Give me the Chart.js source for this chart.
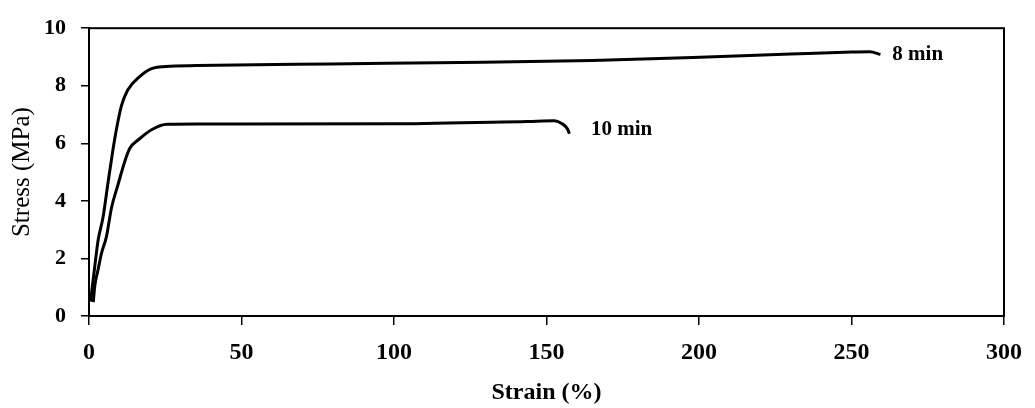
<!DOCTYPE html>
<html>
<head>
<meta charset="utf-8">
<script src="https://cdn.jsdelivr.net/npm/chart.js@4/dist/chart.umd.min.js"></script>
<style>
  html, body { margin: 0; padding: 0; background: #fff; }
  #wrap { width: 1035px; height: 408px; }
</style>
</head>
<body>
<div id="wrap"><canvas id="chart" width="1035" height="408"></canvas></div>
<script>
// Values
const strain8  = [0.5, 1.9, 3.0, 4.6, 6.3, 7.9, 9.0, 10.6, 12.7, 16.5, 20.3, 25.2, 35.4, 79, 122, 165, 198, 230, 250, 256, 259.5];
const stress8  = [0.5, 1.73, 2.64, 3.43, 4.68, 5.81, 6.49, 7.29, 7.85, 8.31, 8.59, 8.67, 8.70, 8.76, 8.81, 8.88, 8.98, 9.10, 9.17, 9.18, 9.09];
const strain10 = [1.4, 1.9, 3.0, 4.1, 5.7, 7.4, 9.5, 11.7, 13.3, 16.5, 20.8, 25.7, 36, 100.7, 143.8, 152.6, 154.8, 156.9, 157.5];
const stress10 = [0.48, 1.05, 1.62, 2.18, 2.75, 3.77, 4.56, 5.36, 5.81, 6.15, 6.49, 6.66, 6.67, 6.68, 6.76, 6.78, 6.70, 6.50, 6.33];
const seriesNames = ['8 min', '10 min'];
const xTicks = [0, 50, 100, 150, 200, 250, 300];
const yTicks = [0, 2, 4, 6, 8, 10];

// where the curve names sit, in data units (strain, stress)
const LABEL_AT = [[263.4, 9.07], [164.6, 6.47]];

const toPoints = (xs, ys) => xs.map((x, i) => ({ x, y: ys[i] }));
const SERIF = "'Liberation Serif', 'Times New Roman', serif";

// plot frame + curve names
const framePlugin = {
  id: 'frame',
  afterDatasetsDraw(chart) {
    const { ctx, chartArea: a, scales } = chart;
    ctx.save();
    ctx.strokeStyle = '#000';
    ctx.lineWidth = 2;
    ctx.strokeRect(a.left, a.top, a.right - a.left, a.bottom - a.top);
    ctx.fillStyle = '#000';
    ctx.font = 'bold 21px ' + SERIF;
    ctx.textAlign = 'left';
    ctx.textBaseline = 'middle';
    seriesNames.forEach((name, i) => {
      const [lx, ly] = LABEL_AT[i];
      ctx.fillText(name, scales.x.getPixelForValue(lx), scales.y.getPixelForValue(ly));
    });
    ctx.restore();
  }
};

const lineStyle = {
  borderColor: '#000',
  borderWidth: 3,
  pointRadius: 0,
  showLine: true,
  fill: false,
  cubicInterpolationMode: 'monotone'
};

new Chart(document.getElementById('chart'), {
  type: 'scatter',
  data: {
    datasets: [
      { label: seriesNames[0], data: toPoints(strain8, stress8), ...lineStyle },
      { label: seriesNames[1], data: toPoints(strain10, stress10), ...lineStyle }
    ]
  },
  options: {
    responsive: false,
    animation: false,
    layout: { padding: { top: 20, right: 20, bottom: 0, left: 0 } },
    plugins: { legend: { display: false }, tooltip: { enabled: false } },
    scales: {
      x: {
        type: 'linear',
        min: 0, max: 300,
        afterBuildTicks: s => { s.ticks = xTicks.map(v => ({ value: v })); },
        afterFit: s => { s.height = 92; },
        grid: { drawOnChartArea: false, drawTicks: true, tickLength: 9, color: '#000', lineWidth: 1.5 },
        border: { display: true, color: '#000', width: 2 },
        ticks: { color: '#000', padding: 13, maxRotation: 0, font: { family: SERIF, size: 24, weight: 'bold' } },
        title: {
          display: true, text: 'Strain (%)', color: '#000',
          padding: { top: 0, bottom: 1 },
          font: { family: SERIF, size: 24, weight: 'bold' }
        }
      },
      y: {
        type: 'linear',
        min: 0, max: 10,
        afterBuildTicks: s => { s.ticks = yTicks.map(v => ({ value: v })); },
        afterFit: s => { s.width = 89; },
        grid: { drawOnChartArea: false, drawTicks: true, tickLength: 8, color: '#000', lineWidth: 1.5 },
        border: { display: true, color: '#000', width: 2 },
        ticks: { color: '#000', padding: 15, font: { family: SERIF, size: 22, weight: 'bold' } },
        title: {
          display: true, text: 'Stress (MPa)', color: '#000',
          padding: { top: 7, bottom: 0 },
          font: { family: SERIF, size: 25, weight: 'normal' }
        }
      }
    }
  },
  plugins: [framePlugin]
});
</script>
</body>
</html>
